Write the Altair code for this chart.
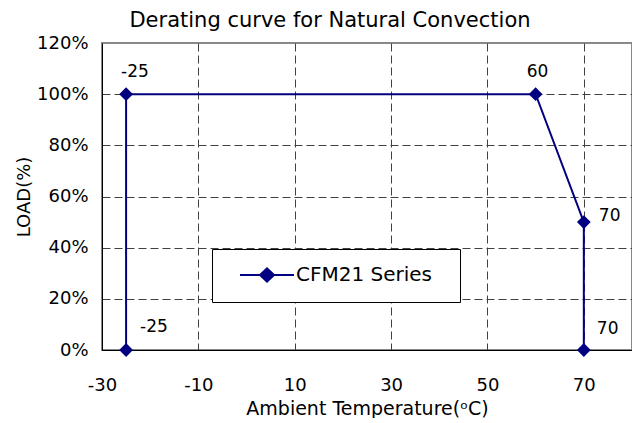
import altair as alt
import pandas as pd

# ---- data ----
temps = [-25, -25, 60, 70, 70]
loads = [0, 100, 100, 50, 0]
point_labels = ["-25", "-25", "60", "70", "70"]
series_name = "CFM21 Series"
x_ticks = [-30, -10, 10, 30, 50, 70]
y_ticks = [0, 20, 40, 60, 80, 100, 120]

df = pd.DataFrame({
    "i": list(range(len(temps))),
    "temp": temps,
    "load": loads,
    "label": point_labels,
    "series": [series_name] * len(temps),
})

NAVY = "#000080"
FONT = "DejaVu Sans"
GRID = "#404040"

x_enc = alt.X(
    "temp:Q",
    scale=alt.Scale(domain=[-30, 80], nice=False, zero=False),
    axis=alt.Axis(
        values=x_ticks,
        title="Ambient Temperature(ᵒC)",
        titleFontSize=19,
        labelExpr="datum.value < 0 ? '-' + abs(datum.value) : '' + datum.value",
        labelFlush=False,
        ticks=False,
        labelPadding=26,
        titlePadding=5,
        grid=True,
        gridDash=[8, 4],
        gridColor={"condition": {"test": "datum.value == -30", "value": "transparent"}, "value": GRID},
        domainColor="black",
        domainWidth=1,
    ),
)
y_enc = alt.Y(
    "load:Q",
    scale=alt.Scale(domain=[0, 120], nice=False),
    axis=alt.Axis(
        values=y_ticks,
        title="LOAD(%)",
        labelExpr="datum.value + '%'",
        labelFlush=False,
        ticks=False,
        labelPadding=14,
        titlePadding=3,
        grid=True,
        gridDash=[8, 4],
        gridColor={"condition": {"test": "datum.value == 0 || datum.value == 120", "value": "transparent"}, "value": GRID},
        domainColor="black",
        domainWidth=1,
    ),
)

base = alt.Chart(df)

line = base.mark_line(color=NAVY, strokeWidth=2).encode(x=x_enc, y=y_enc, order="i:O")

legend = alt.Legend(
    title=" ",
    titleOrient="right",
    titlePadding=12,
    titleFont=FONT,
    titleFontSize=20,
    orient="none",
    legendX=110,
    legendY=206,
    padding=16,
    strokeColor="black",
    fillColor="white",
    labelFont=FONT,
    labelFontSize=20,
    labelColor="black",
    symbolType="M-3.857,0L3.857,0M-1,0L0,-0.93L1,0L0,0.93Z",
    symbolSize=196,
    symbolOffset=29,
    labelOffset=19,
    symbolFillColor=NAVY,
    symbolStrokeColor=NAVY,
    symbolStrokeWidth=2,
    symbolOpacity=1,
)

points = base.mark_point(shape="diamond", filled=True, size=190, opacity=1).encode(
    x="temp:Q",
    y="load:Q",
    color=alt.Color("series:N", scale=alt.Scale(range=[NAVY]), legend=legend),
)

label_style = [
    (0, 14, -23),
    (1, -5, -22),
    (2, -9, -22),
    (3, 15, -6),
    (4, 13, -21),
]
texts = [
    base.transform_filter(alt.datum.i == idx).mark_text(
        align="left", baseline="middle", dx=dx, dy=dy, font=FONT, fontSize=17, color="black"
    ).encode(x="temp:Q", y="load:Q", text="label:N")
    for idx, dx, dy in label_style
]

chart = alt.layer(line, points, *texts).properties(
    width=530,
    height=307,
    padding={"left": 94, "top": 35, "right": 0, "bottom": 68},
    autosize=alt.AutoSizeParams(type="none"),
    title=alt.TitleParams(
        "Derating curve for Natural Convection",
        font=FONT,
        fontSize=21,
        fontWeight="normal",
        color="black",
        anchor="middle",
        dx=-37,
        offset=3,
    ),
).configure_view(
    stroke="#888888", strokeWidth=2
).configure_axis(
    labelFont=FONT,
    labelFontSize=18,
    labelColor="black",
    titleFont=FONT,
    titleFontSize=18,
    titleFontWeight="normal",
    titleColor="black",
    gridWidth=1,
)

chart.save("out.html", embed_options={"renderer": "svg", "actions": False})
